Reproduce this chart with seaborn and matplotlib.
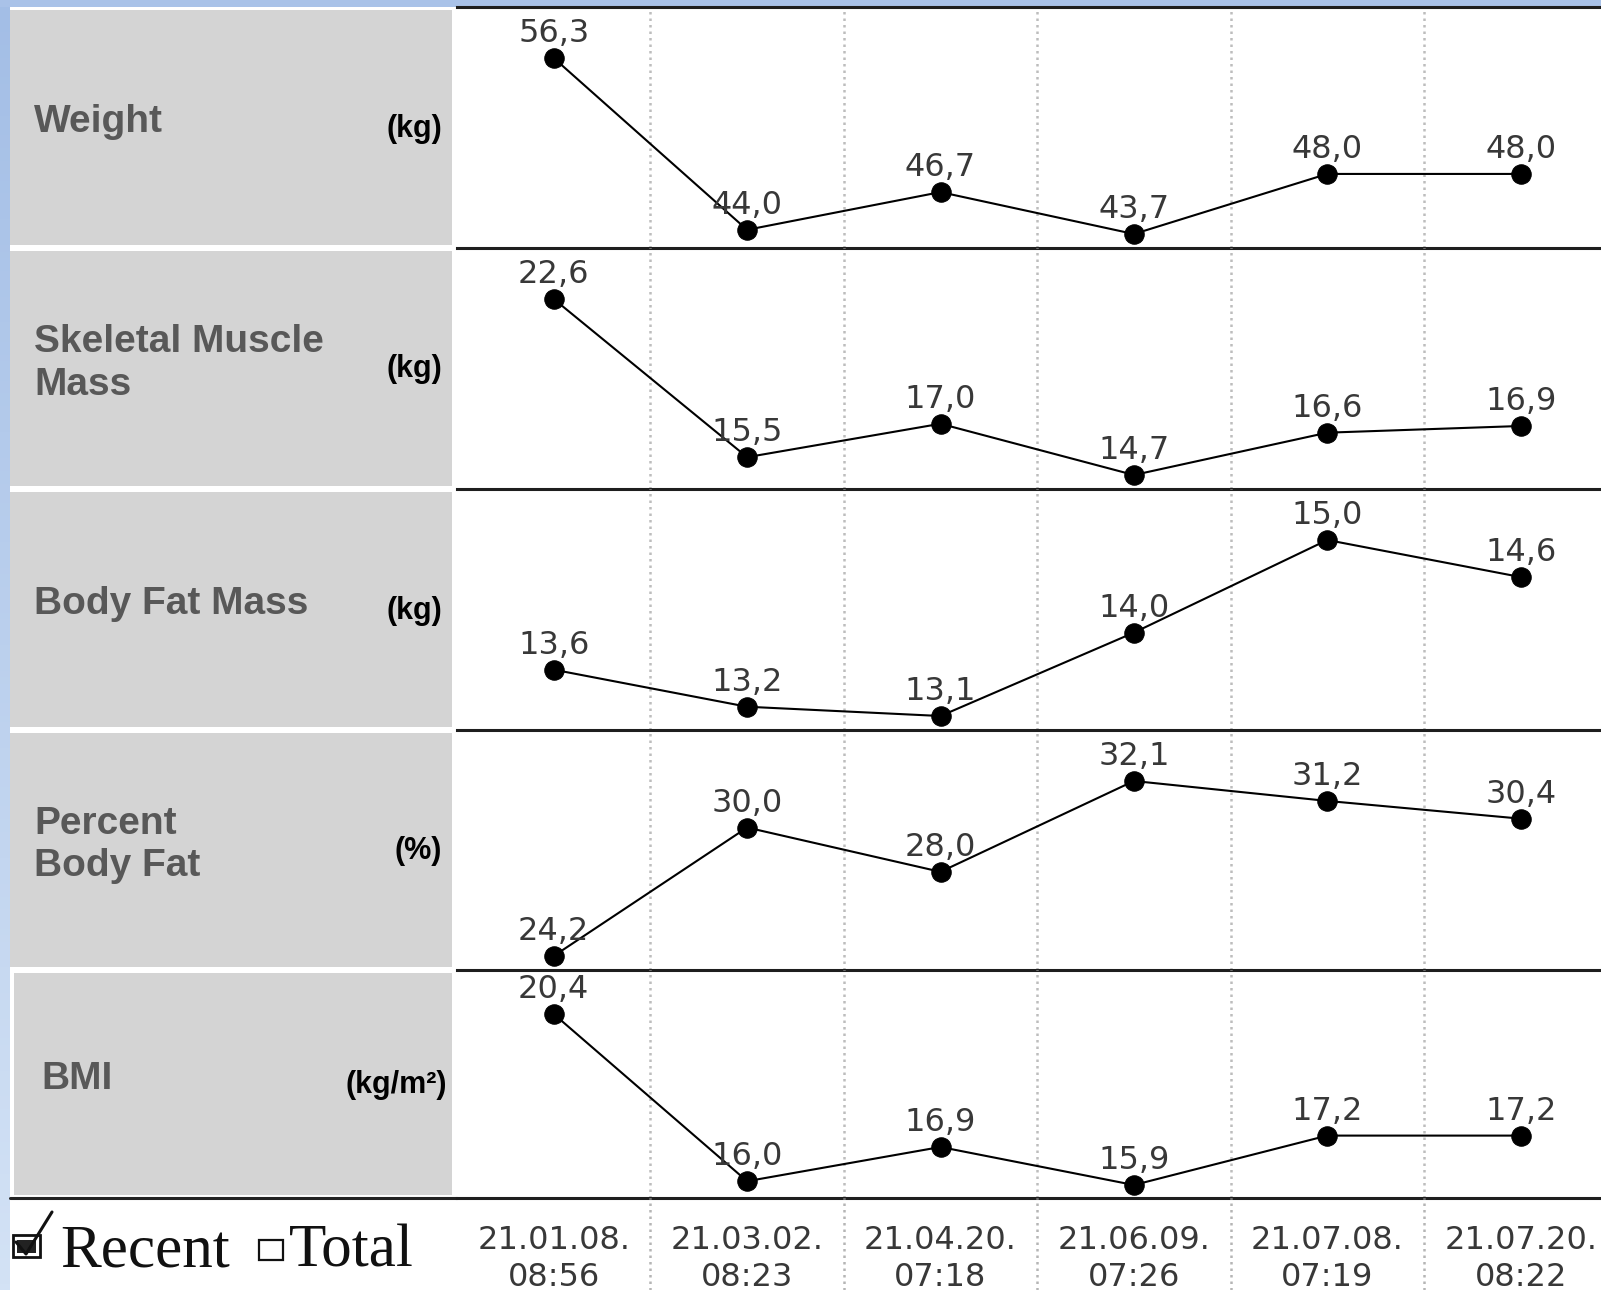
import matplotlib
matplotlib.use("Agg")
import matplotlib.pyplot as plt
import seaborn as sns
import numpy as np
import pandas as pd
from matplotlib.patches import Rectangle
from matplotlib.colors import LinearSegmentedColormap

sns.set_style("white")
plt.rcParams['font.family'] = ['DejaVu Sans']

# data
dates = ["21.01.08.\n08:56", "21.03.02.\n08:23", "21.04.20.\n07:18",
         "21.06.09.\n07:26", "21.07.08.\n07:19", "21.07.20.\n08:22"]
weight = [56.3, 44.0, 46.7, 43.7, 48.0, 48.0]
muscle = [22.6, 15.5, 17.0, 14.7, 16.6, 16.9]
fat_mass = [13.6, 13.2, 13.1, 14.0, 15.0, 14.6]
pbf = [24.2, 30.0, 28.0, 32.1, 31.2, 30.4]
bmi = [20.4, 16.0, 16.9, 15.9, 17.2, 17.2]

row_names = ["Weight", "Skeletal Muscle\nMass", "Body Fat Mass", "Percent\nBody Fat", "BMI"]
row_units = ["(kg)", "(kg)", "(kg)", "(%)", "(kg/m²)"]
series = [weight, muscle, fat_mass, pbf, bmi]

rows = []
for name, vals in zip(row_names, series):
    for i, v in enumerate(vals):
        rows.append({"metric": name, "idx": i, "value": v})
df = pd.DataFrame(rows)

W, H = 1601, 1290
fig = plt.figure(figsize=(W / 100, H / 100), dpi=100)

def box(x0, y0, x1, y1):
    return [x0 / W, 1 - y1 / H, (x1 - x0) / W, (y1 - y0) / H]

# background in pixel coords
bg = fig.add_axes([0, 0, 1, 1])
bg.axis('off')
cmap = LinearSegmentedColormap.from_list('strip', ['#a3bee6', '#d3e2f5'])
bg.imshow(np.linspace(0, 1, 200)[:, None], cmap=cmap, extent=(0, 10, 0, H),
          origin='lower', aspect='auto')
bg.add_patch(Rectangle((0, 0), W, 7, color='#a9c2e8', lw=0))
bg.set_xlim(0, W)
bg.set_ylim(H, 0)

bounds = [7, 248, 489, 730, 970, 1198]
col_left = 457
col_w = 193.4
xr = -0.5 + (W - col_left) / col_w

for r in range(5):
    top, bot = bounds[r], bounds[r + 1]
    gx = 14 if r == 4 else 10
    bg.add_patch(Rectangle((gx, top + 3), 452 - gx, bot - top - 6, color='#d4d4d4', lw=0))
    cy = (top + bot) / 2
    lx = 41 if r == 4 else 34
    bg.text(lx, cy - 5, row_names[r], fontsize=28, fontweight='bold', color='#585858',
            va='center', ha='left', family='Liberation Sans', linespacing=1.22)
    ux = 447 if r == 4 else 442
    bg.text(ux, cy + 1, row_units[r], fontsize=22, fontweight='bold', color='black',
            va='center', ha='right', family='Liberation Sans')

bg.plot([10, col_left], [1198, 1198], color='#222222', lw=2.2)

for r in range(5):
    top, bot = bounds[r], bounds[r + 1]
    ax = fig.add_axes(box(col_left, top, W, bot))
    ax.set_facecolor('none')
    sub = df[df.metric == row_names[r]]
    for k in range(5):
        ax.axvline(k + 0.5, color='#bdbdbd', ls=(0, (1, 1.6)), lw=1.8, zorder=0)
    sns.lineplot(data=sub, x="idx", y="value", ax=ax, color='black', marker='o',
                 markersize=14, linewidth=1.5, markeredgecolor='black')
    vmin, vmax = sub.value.min(), sub.value.max()
    hpx = bot - top
    tp, bp = (44, 13) if r == 4 else (51, 14)
    per = (vmax - vmin) / (hpx - tp - bp)
    ax.set_ylim(vmin - bp * per, vmax + tp * per)
    ax.set_xlim(-0.5, xr)
    for x, v in zip(sub.idx, sub.value):
        ax.annotate(f"{v:.1f}".replace('.', ','), (x, v), xytext=(0, 17.5),
                    textcoords='offset points', ha='center', va='center',
                    fontsize=23, color='#383838')
    ax.set_xticks([])
    ax.set_yticks([])
    ax.set_xlabel('')
    ax.set_ylabel('')
    for s in ['left', 'right']:
        ax.spines[s].set_visible(False)
    ax.spines['bottom'].set_color('#1e1e1e')
    ax.spines['bottom'].set_linewidth(2.2)
    if r == 0:
        ax.spines['top'].set_color('#1e1e1e')
        ax.spines['top'].set_linewidth(2.2)
    else:
        ax.spines['top'].set_visible(False)

# date row
dax = fig.add_axes(box(col_left, 1198, W, H))
dax.set_facecolor('none')
dax.set_xlim(-0.5, xr)
dax.set_ylim(H, 1198)
for k in range(5):
    dax.axvline(k + 0.5, color='#b5b5b5', ls=(0, (1, 1.6)), lw=1.8, zorder=0)
for i, d in enumerate(dates):
    dax.text(i, 1259, d, ha='center', va='center', fontsize=23, color='#383838',
             linespacing=1.22)
dax.axis('off')

# Recent / Total switch
bg.add_patch(Rectangle((13, 1235), 27, 22, fc='white', ec='#111111', lw=2))
bg.add_patch(Rectangle((17, 1240), 19, 13, fc='#222222', lw=0))
bg.plot([16, 26, 52], [1242, 1254, 1212], color='#111111', lw=2.2,
        solid_capstyle='round', solid_joinstyle='round')
bg.text(60, 1252, "Recent", fontsize=44, va='center', ha='left', color='#111111',
        family='Liberation Serif')
bg.add_patch(Rectangle((259, 1240), 24, 20, fc='white', ec='#111111', lw=1.6))
bg.text(289, 1252, "Total", fontsize=44, va='center', ha='left', color='#111111',
        family='Liberation Serif')

fig.savefig("out.png", dpi=100)
